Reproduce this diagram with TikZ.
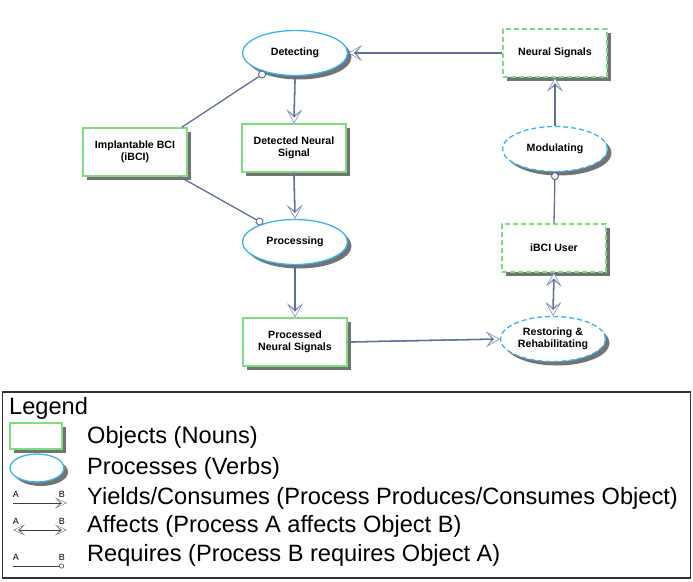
\documentclass[tikz,border=0pt]{standalone}
\usepackage{fontspec}
\setmainfont{Liberation Sans}
\usetikzlibrary{arrows.meta,shadows,shapes.geometric}
\definecolor{objgreen}{RGB}{125,222,125}
\definecolor{procblue}{RGB}{55,180,240}
\definecolor{linec}{RGB}{95,110,155}
\definecolor{tipc}{RGB}{130,143,188}
\tikzset{
  outerA/.tip={Stealth[length=14pt,width=16pt,inset=6pt,line width=0pt,color=tipc]},
  innerA/.tip={Stealth[length=9pt,width=10.5pt,inset=5pt,line width=0pt,color=white]},
  outerL/.tip={Stealth[length=12pt,width=11pt,inset=5pt,line width=0pt,color=black!50]},
  innerL/.tip={Stealth[length=7.5pt,width=7pt,inset=4.2pt,line width=0pt,color=white]},
  rq/.style={arrows={-Circle[open,fill=white,length=8pt,width=8pt,line width=1pt]}},
  lr/.style={arrows={-Circle[open,fill=white,length=5pt,width=5pt,line width=0.6pt]}},
  shad/.style={drop shadow={shadow xshift=4pt,shadow yshift=-4pt,fill=black!55,opacity=1}},
  obj/.style={rectangle,draw=objgreen,line width=1.3pt,fill=white,minimum width=104pt,minimum height=48pt,
    align=center,inner sep=2pt,font=\bfseries\fontsize{10.6}{12.5}\selectfont,shad},
  proc/.style={ellipse,draw=procblue,line width=1.3pt,fill=white,minimum width=105pt,minimum height=45pt,
    align=center,inner sep=0pt,font=\bfseries\fontsize{10.6}{12.5}\selectfont,shad},
  dsh/.style={dash pattern=on 5pt off 3pt},
  conn/.style={draw=linec,line width=1.3pt},
  lconn/.style={draw=black!75,line width=0.7pt},
  leg/.style={anchor=west,inner sep=0pt,font=\fontsize{23.6}{26}\selectfont},
  ab/.style={inner sep=0pt,font=\fontsize{9}{10}\selectfont},
}
\newcommand\yconn[2]{%
  \draw[conn,-outerA] (#1) -- (#2);
  \draw[conn,shorten >=1.6pt,-innerA] (#1) -- (#2);}
\newcommand\aconn[2]{%
  \draw[conn,outerA-outerA] (#1) -- (#2);
  \draw[conn,shorten >=1.6pt,shorten <=1.6pt,innerA-innerA] (#1) -- (#2);}
\begin{document}
\begin{tikzpicture}[x=1pt,y=-1pt]
\useasboundingbox (0,0) rectangle (693,581);
% nodes
\node[proc] (det) at (295,53) {Detecting};
\node[obj,dsh] (ns) at (555,53) {Neural Signals};
\node[obj] (ibci) at (135,152) {Implantable BCI\\(iBCI)};
\node[obj] (dns) at (294,148) {Detected Neural\\Signal};
\node[proc,dsh] (mod) at (555,149) {Modulating};
\node[proc] (proc) at (295,242) {Processing};
\node[obj,dsh] (user) at (554,248) {iBCI User};
\node[obj] (pns) at (295,342) {Processed\\Neural Signals};
\node[proc,dsh] (rest) at (553,339) {Restoring \&\\Rehabilitating};
% connectors
\yconn{ns.west}{det.east}
\yconn{det.south}{dns.north}
\yconn{dns.south}{proc.north}
\yconn{proc.south}{pns.north}
\yconn{pns.east}{rest.west}
\yconn{mod.north}{ns.south}
\aconn{user.south}{rest.north}
\draw[conn,rq] ([xshift=-6pt]ibci.north east) -- (det.213);
\draw[conn,rq] ([xshift=-8pt]ibci.south east) -- (proc.150);
\draw[conn,rq] (user.north) -- (mod.south);
% legend
\node[draw=black!80,line width=1.5pt,minimum width=688pt,minimum height=186pt,inner sep=0pt] (legbox) at (346.5,485) {};
\node[leg] (lt) at (9,408) {Legend};
\node[rectangle,draw=objgreen,line width=1.3pt,fill=white,minimum width=52pt,minimum height=26pt,shad] (lobj) at (36,436) {};
\node[ellipse,draw=procblue,line width=1.3pt,fill=white,minimum width=54pt,minimum height=28pt,shad] (lproc) at (37,468) {};
\node[leg] (t1) at (87,437) {Objects (Nouns)};
\node[leg] (t2) at (87,468) {Processes (Verbs)};
\node[leg] (t3) at (87,498) {Yields/Consumes (Process Produces/Consumes Object)};
\node[leg] (t4) at (87,526) {Affects (Process A affects Object B)};
\node[leg] (t5) at (87,555) {Requires (Process B requires Object A)};
% legend arrows
\coordinate (y1) at (13,503); \coordinate (y2) at (67,503);
\draw[lconn,-outerL] (y1) -- (y2);
\draw[lconn,shorten >=1.5pt,-innerL] (y1) -- (y2);
\node[ab] at (16,494) {A}; \node[ab] at (62,494) {B};
\coordinate (a1) at (13,530); \coordinate (a2) at (67,530);
\draw[lconn,outerL-outerL] (a1) -- (a2);
\draw[lconn,shorten >=1.5pt,shorten <=1.5pt,innerL-innerL] (a1) -- (a2);
\node[ab] at (16,521) {A}; \node[ab] at (62,521) {B};
\coordinate (r1) at (13,566); \coordinate (r2) at (64,566);
\draw[lconn,lr] (r1) -- (r2);
\node[ab] at (16,557) {A}; \node[ab] at (62,557) {B};
\end{tikzpicture}
\end{document}
